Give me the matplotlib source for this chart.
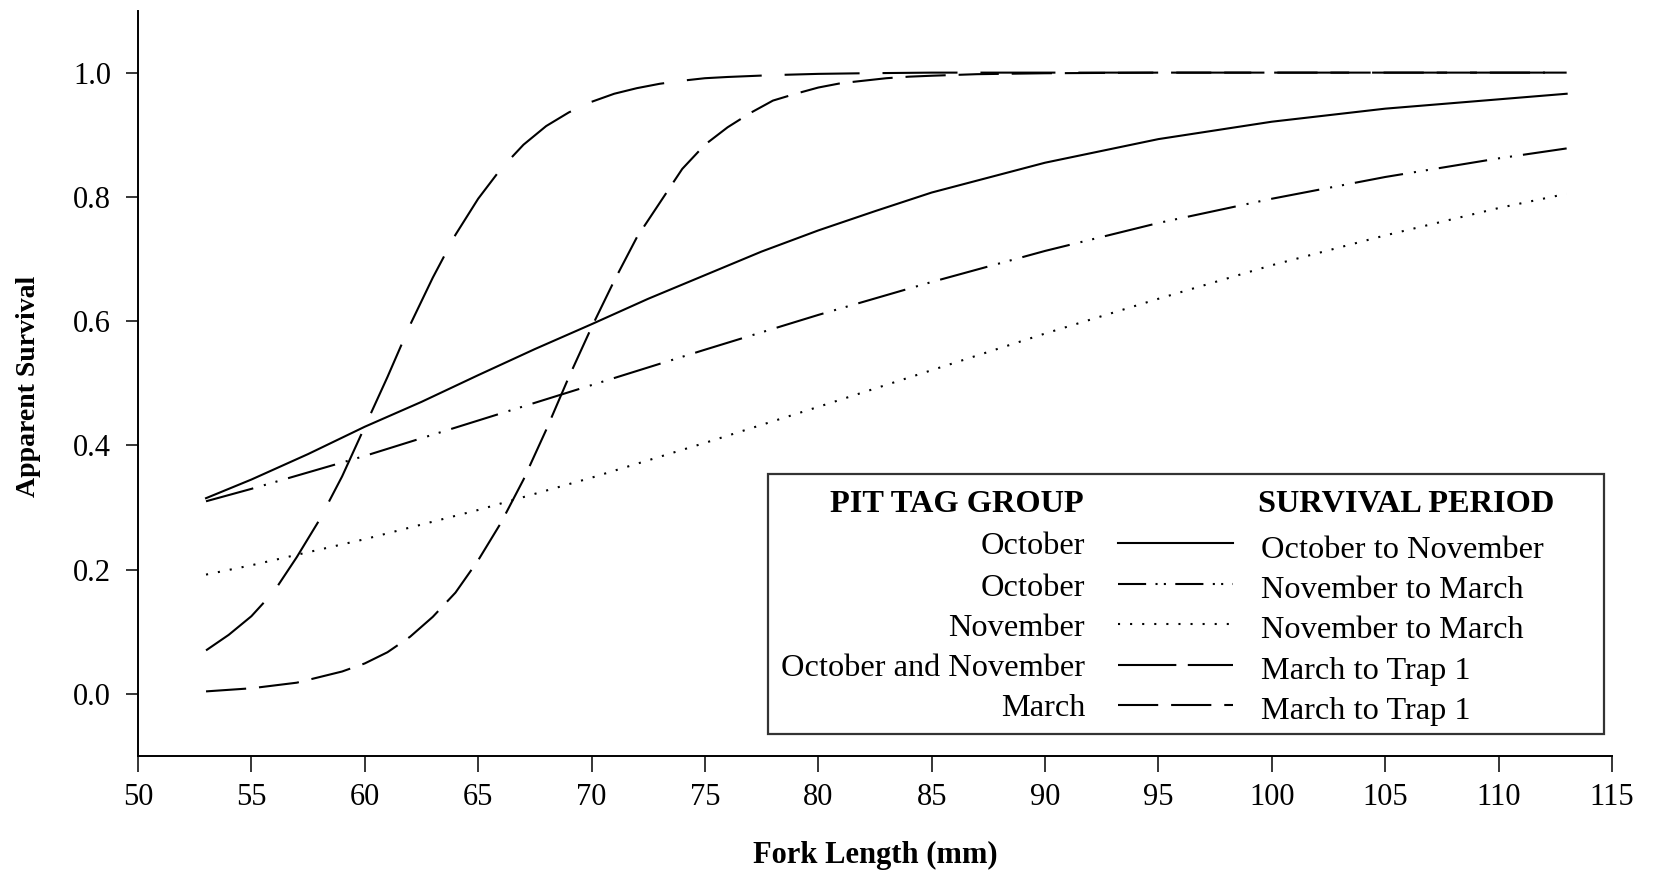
import matplotlib.pyplot as plt
from matplotlib.lines import Line2D
from matplotlib.patches import Rectangle

# Times-like serif everywhere
plt.rcParams['font.family'] = ['Liberation Serif', 'DejaVu Serif']

# --- data (fork length mm, apparent survival) ---
# October PIT tags, October to November
oct_on_x = [53, 55, 57.5, 60, 62.5, 65, 67.5, 70, 72.5, 75, 77.5, 80, 82.5, 85,
            87.5, 90, 95, 100, 105, 110, 113]
oct_on_y = [0.315, 0.345, 0.386, 0.430, 0.470, 0.513, 0.555, 0.595, 0.636,
            0.674, 0.712, 0.746, 0.777, 0.807, 0.831, 0.855, 0.893, 0.921,
            0.942, 0.957, 0.966]

# October PIT tags, November to March
oct_nm_x = [53, 55, 60, 65, 70, 75, 80, 85, 90, 95, 100, 105, 110, 113]
oct_nm_y = [0.310, 0.330, 0.383, 0.440, 0.497, 0.554, 0.610, 0.663, 0.713,
            0.758, 0.797, 0.832, 0.862, 0.878]

# November PIT tags, November to March
nov_nm_x = [53, 55, 60, 65, 70, 75, 80, 85, 90, 95, 100, 105, 110, 113]
nov_nm_y = [0.192, 0.207, 0.249, 0.296, 0.348, 0.404, 0.462, 0.521, 0.580,
            0.636, 0.690, 0.738, 0.782, 0.805]

# October and November PIT tags, March to Trap 1
on_mt_x = [53, 54, 55, 56, 57, 58, 59, 60, 61, 62, 63, 64, 65, 66, 67, 68,
           69, 70, 71, 72, 73, 74, 75, 76, 78, 80, 82, 85, 90, 95, 100, 105,
           110, 113]
on_mt_y = [0.070, 0.095, 0.125, 0.165, 0.220, 0.280, 0.350, 0.430, 0.510,
           0.594, 0.670, 0.739, 0.797, 0.845, 0.884, 0.914, 0.936, 0.953,
           0.966, 0.975, 0.982, 0.987, 0.991, 0.993, 0.996, 0.998, 0.999,
           1.0, 1.0, 1.0, 1.0, 1.0, 1.0, 1.0]

# March PIT tags, March to Trap 1
mar_mt_x = [53, 55, 57, 59, 60, 61, 62, 63, 64, 65, 66, 67, 68, 69, 70, 71,
            72, 73, 74, 75, 76, 77, 78, 79, 80, 81, 82, 83, 84, 85, 87, 90,
            95, 100, 105, 110, 113]
mar_mt_y = [0.004, 0.009, 0.018, 0.036, 0.049, 0.067, 0.092, 0.124, 0.163,
            0.215, 0.275, 0.345, 0.425, 0.510, 0.590, 0.665, 0.735, 0.790,
            0.845, 0.884, 0.912, 0.935, 0.955, 0.966, 0.976, 0.983, 0.987,
            0.991, 0.9935, 0.995, 0.9975, 0.999, 1.0, 1.0, 1.0, 1.0, 1.0]

# legend rows
tag_groups = ["October", "October", "November", "October and November", "March"]
periods = ["October to November", "November to March", "November to March",
           "March to Trap 1", "March to Trap 1"]

# line styles (plot, legend sample)
lw = 1.5
styles = ['-',
          (0, (23.5, 5.3, 1, 4.8, 1, 5.3)),
          (0, (1, 4.8)),
          (0, (36, 11)),
          (0, (19.3, 6.2))]
legend_styles = ['-',
                 (0, (13.5, 4.5, 1, 3, 1, 4.5)),
                 (0, (1, 4.8)),
                 (0, (28, 5.5)),
                 (0, (19.3, 6.2))]

W, H = 1655, 873
fig = plt.figure(figsize=(W / 100, H / 100), dpi=100)
ax = fig.add_axes([138 / W, 1 - 756 / H, 1474 / W, 745.5 / H])

series = [(oct_on_x, oct_on_y), (oct_nm_x, oct_nm_y), (nov_nm_x, nov_nm_y),
          (on_mt_x, on_mt_y), (mar_mt_x, mar_mt_y)]
for (xs, ys), ls in zip(series, styles):
    ax.plot(xs, ys, color='black', lw=lw, linestyle=ls)

# axes look
ax.set_xlim(50, 115)
ax.set_ylim(-0.1, 1.1)
ax.set_xticks(range(50, 116, 5))
ax.set_yticks([0.0, 0.2, 0.4, 0.6, 0.8, 1.0])
ax.set_yticklabels([f"{v:.1f}" for v in [0.0, 0.2, 0.4, 0.6, 0.8, 1.0]])
for s in ['top', 'right']:
    ax.spines[s].set_visible(False)
for s in ['left', 'bottom']:
    ax.spines[s].set_linewidth(1.4)
ax.tick_params(axis='x', direction='out', length=11.5, width=1.1, pad=8, labelsize=22)
ax.tick_params(axis='y', direction='out', length=8.5, width=1.1, pad=11, labelsize=22)

# axis titles
fig.text(28.5 / W, 1 - 386 / H, "Apparent Survival", rotation=90, ha='center',
         va='center', fontsize=20, fontweight='bold')
fig.text(875 / W, 1 - 855 / H, "Fork Length (mm)", ha='center', va='center',
         fontsize=22, fontweight='bold')

# legend box drawn by hand (two text columns + line samples)
fig.add_artist(Rectangle((768 / W, 1 - 733.5 / H), (1604 - 768) / W, (733.5 - 474) / H,
                         transform=fig.transFigure, fill=False, lw=1.6,
                         edgecolor='#333333'))
fig.text(1084 / W, 1 - 505 / H, "PIT TAG GROUP", ha='right', va='center',
         fontsize=23.3, fontweight='bold')
fig.text(1258 / W, 1 - 505 / H, "SURVIVAL PERIOD", ha='left', va='center',
         fontsize=23.3, fontweight='bold')
row_y = [543, 584, 624, 665, 705]
for i in range(len(tag_groups)):
    y = row_y[i]
    fig.text(1085 / W, 1 - (y + 4) / H, tag_groups[i], ha='right', va='center',
             fontsize=23.3)
    fig.add_artist(Line2D([1118 / W, 1233 / W], [1 - y / H, 1 - y / H],
                          transform=fig.transFigure, color='black', lw=lw,
                          linestyle=legend_styles[i]))
    fig.text(1261 / W, 1 - (y + 7) / H, periods[i], ha='left', va='center',
             fontsize=23.3)

fig.savefig("out.png", dpi=100)
